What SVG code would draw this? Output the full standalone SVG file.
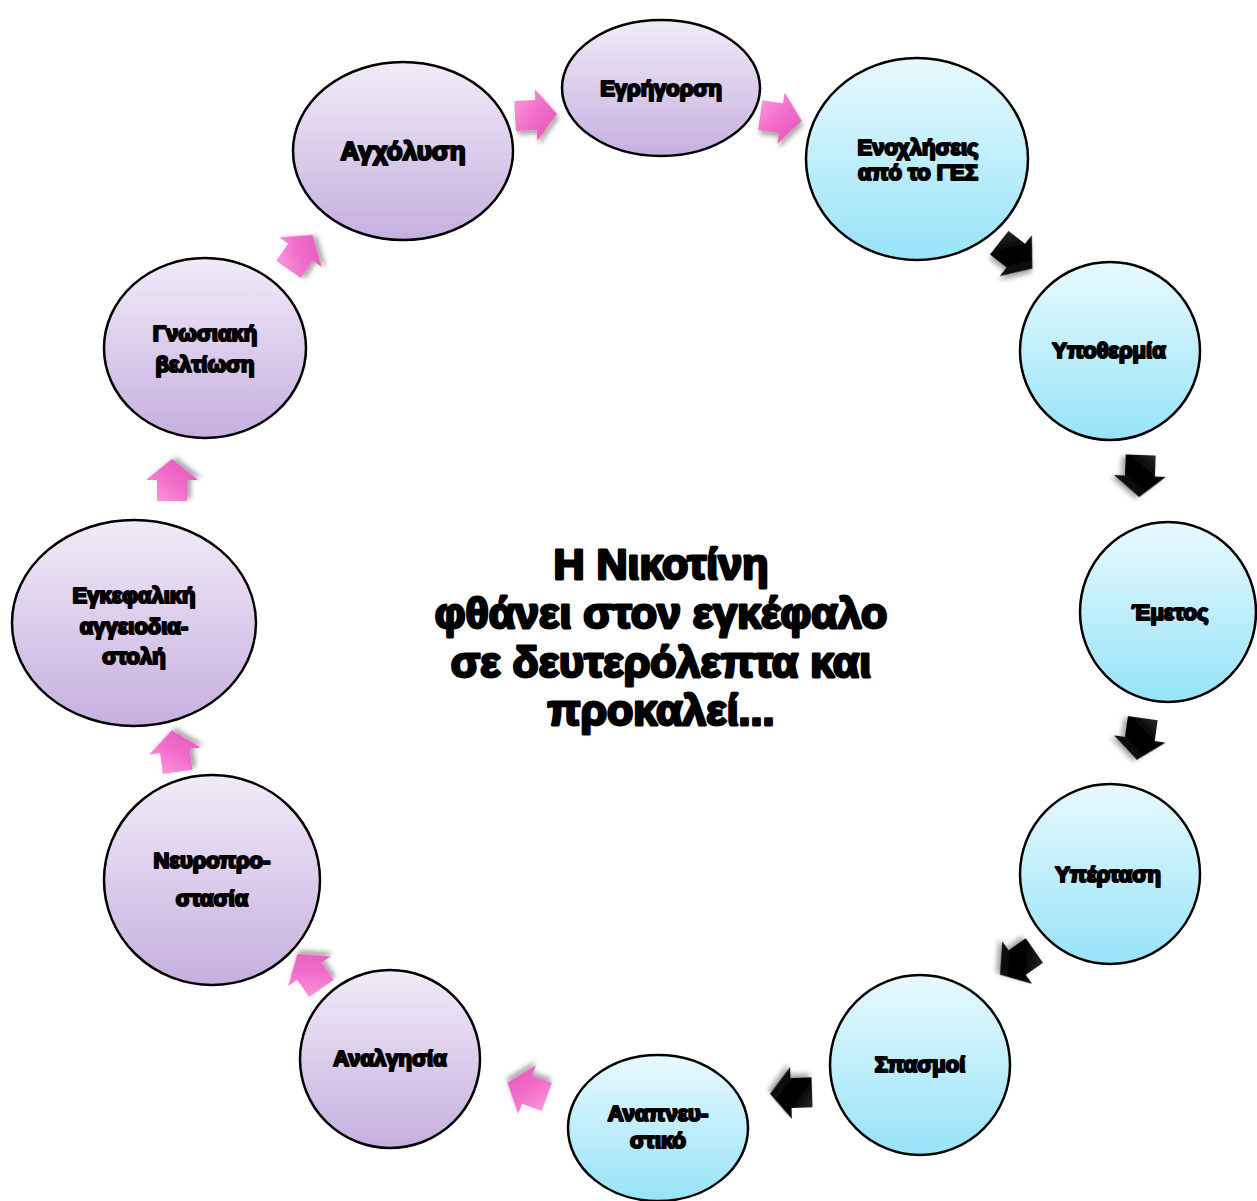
<svg xmlns="http://www.w3.org/2000/svg" width="1257" height="1201" viewBox="0 0 1257 1201">
  <defs>
    <linearGradient id="gPurple" x1="0" y1="0" x2="0" y2="1">
      <stop offset="0" stop-color="#f1ebf8"/>
      <stop offset="1" stop-color="#c6afdf"/>
    </linearGradient>
    <linearGradient id="gBlue" x1="0" y1="0" x2="0" y2="1">
      <stop offset="0" stop-color="#e8f9fe"/>
      <stop offset="1" stop-color="#97e3f8"/>
    </linearGradient>
    <linearGradient id="gPink" x1="0" y1="0" x2="1" y2="1">
      <stop offset="0" stop-color="#ff9ee0"/>
      <stop offset="0.5" stop-color="#f06cc9"/>
      <stop offset="1" stop-color="#e255b8"/>
    </linearGradient>
    <linearGradient id="gBlack" x1="0" y1="0" x2="1" y2="1">
      <stop offset="0" stop-color="#3a3a3a"/>
      <stop offset="0.4" stop-color="#000"/>
      <stop offset="1" stop-color="#111"/>
    </linearGradient>
    <filter id="shadow" x="-50%" y="-50%" width="200%" height="200%">
      <feGaussianBlur in="SourceAlpha" stdDeviation="2.5"/>
      <feOffset dx="2" dy="4" result="b"/>
      <feComponentTransfer><feFuncA type="linear" slope="0.35"/></feComponentTransfer>
      <feMerge><feMergeNode/><feMergeNode in="SourceGraphic"/></feMerge>
    </filter>
    <!-- block arrow pointing along +x, centred on the origin -->
    <polygon id="arrow" points="-20,-15 1,-15 1,-26 22,0 1,26 1,15 -20,15"/>
  </defs>
  <style>
    .p { fill: url(#gPurple); stroke: #000; stroke-width: 2.5; }
    .b { fill: url(#gBlue); stroke: #000; stroke-width: 2.5; }
    .lbl { font-family: "Liberation Sans", "DejaVu Sans", sans-serif; font-weight: bold; font-size: 22px; fill: #000; stroke: #000; stroke-width: 2.2; stroke-linejoin: round; text-anchor: middle; }
    .big { font-family: "Liberation Sans", "DejaVu Sans", sans-serif; font-weight: bold; font-size: 43px; fill: #000; stroke: #000; stroke-width: 2.8; stroke-linejoin: round; text-anchor: middle; }
    .pink { fill: url(#gPink); filter: url(#shadow); }
    .black { fill: url(#gBlack); filter: url(#shadow); }
  </style>

  <rect width="1257" height="1201" fill="#fff"/>

  <!-- connectors: block arrows between the nodes -->
  <g id="connectors">
    <use href="#arrow" class="pink" transform="translate(535,115) rotate(-3)"/>
    <use href="#arrow" class="pink" transform="translate(780,118) rotate(8)"/>
    <use href="#arrow" class="black" transform="translate(1015,255) rotate(38)"/>
    <use href="#arrow" class="black" transform="translate(1140,475) rotate(92)"/>
    <use href="#arrow" class="black" transform="translate(1140,738) rotate(98)"/>
    <use href="#arrow" class="black" transform="translate(1018,962) rotate(145)"/>
    <use href="#arrow" class="black" transform="translate(792,1093) rotate(178)"/>
    <use href="#arrow" class="pink" transform="translate(528,1090) rotate(200)"/>
    <use href="#arrow" class="pink" transform="translate(310,972) rotate(235)"/>
    <use href="#arrow" class="pink" transform="translate(175,752) rotate(262)"/>
    <use href="#arrow" class="pink" transform="translate(172,481) rotate(270)"/>
    <use href="#arrow" class="pink" transform="translate(300,253) rotate(305)"/>
  </g>

  <g id="n-egrigorsi">
    <ellipse class="p" cx="661" cy="88" rx="99" ry="68"/>
    <text class="lbl" x="661" y="96">Εγρήγορση</text>
  </g>
  <g id="n-enochliseis">
    <ellipse class="b" cx="917" cy="159" rx="111" ry="101"/>
    <text class="lbl" x="918" y="155">Ενοχλήσεις</text>
    <text class="lbl" x="918" y="180">από το ΓΕΣ</text>
  </g>
  <g id="n-ypothermia">
    <ellipse class="b" cx="1110" cy="351" rx="90" ry="89"/>
    <text class="lbl" x="1109" y="358">Υποθερμία</text>
  </g>
  <g id="n-emetos">
    <ellipse class="b" cx="1168" cy="612" rx="88" ry="90"/>
    <text class="lbl" x="1170" y="620">Έμετος</text>
  </g>
  <g id="n-ypertasi">
    <ellipse class="b" cx="1110" cy="874" rx="90" ry="90"/>
    <text class="lbl" x="1108" y="882">Υπέρταση</text>
  </g>
  <g id="n-spasmoi">
    <ellipse class="b" cx="920" cy="1065" rx="90" ry="90"/>
    <text class="lbl" x="920" y="1072">Σπασμοί</text>
  </g>
  <g id="n-anapneustiko">
    <ellipse class="b" cx="658" cy="1128" rx="90" ry="73"/>
    <text class="lbl" x="658" y="1121">Αναπνευ-</text>
    <text class="lbl" x="658" y="1148">στικό</text>
  </g>
  <g id="n-analgisia">
    <ellipse class="p" cx="390" cy="1059" rx="90" ry="89"/>
    <text class="lbl" x="390" y="1066">Αναλγησία</text>
  </g>
  <g id="n-neuroprostasia">
    <ellipse class="p" cx="212" cy="880" rx="108" ry="105"/>
    <text class="lbl" x="212" y="868">Νευροπρο-</text>
    <text class="lbl" x="212" y="906">στασία</text>
  </g>
  <g id="n-angeiodiastoli">
    <ellipse class="p" cx="134" cy="623" rx="122" ry="103"/>
    <text class="lbl" x="134" y="603">Εγκεφαλική</text>
    <text class="lbl" x="134" y="634">αγγειοδια-</text>
    <text class="lbl" x="134" y="664">στολή</text>
  </g>
  <g id="n-gnosiaki">
    <ellipse class="p" cx="205" cy="348" rx="101" ry="90"/>
    <text class="lbl" x="205" y="341">Γνωσιακή</text>
    <text class="lbl" x="205" y="372">βελτίωση</text>
  </g>
  <g id="n-agcholysi">
    <ellipse class="p" cx="403" cy="151" rx="110" ry="89"/>
    <text class="lbl" x="403" y="160" style="font-size:26px">Αγχόλυση</text>
  </g>

  <g id="centre-text">
    <text class="big" x="661" y="579">Η Νικοτίνη</text>
    <text class="big" x="661" y="628">φθάνει στον εγκέφαλο</text>
    <text class="big" x="661" y="677">σε δευτερόλεπτα και</text>
    <text class="big" x="661" y="725">προκαλεί...</text>
  </g>
</svg>
